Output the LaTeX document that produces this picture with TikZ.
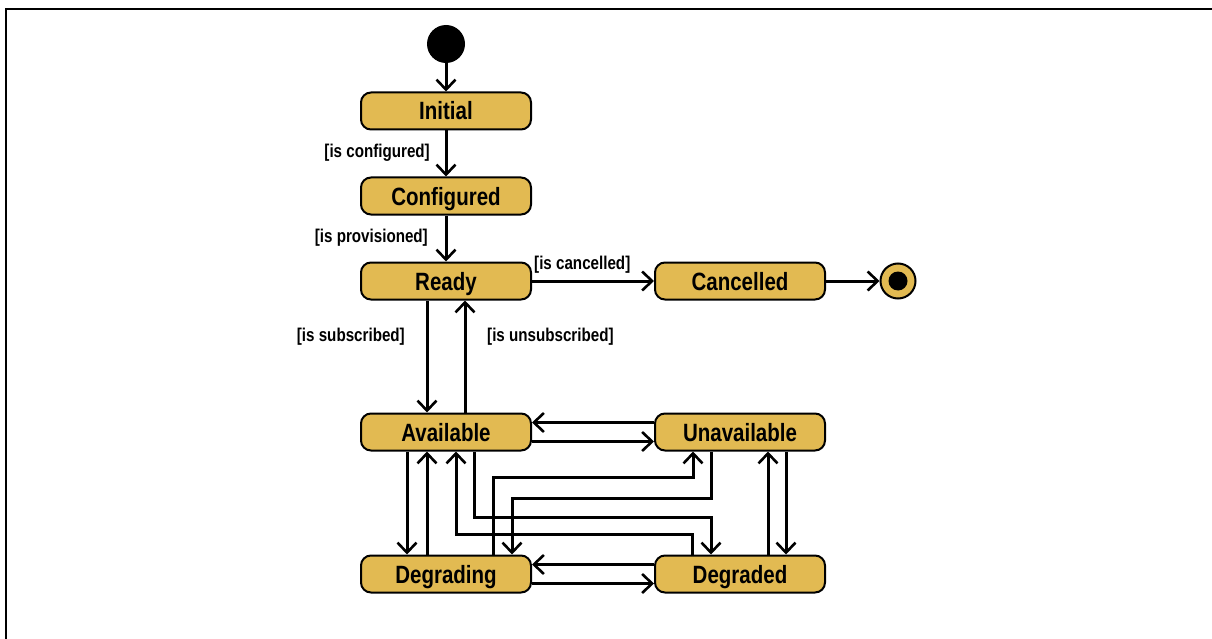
\documentclass[tikz,border=0pt]{standalone}
\usepackage{fontspec}
\setmainfont{Liberation Sans}[FakeStretch=0.82]
\usetikzlibrary{arrows.meta}
\definecolor{stategold}{HTML}{E2BA52}
\begin{document}
\begin{tikzpicture}[x=1pt,y=-1pt,
  statebox/.style={draw=black, line width=2pt, fill=stategold, rounded corners=10pt,
    minimum width=170pt, minimum height=37pt, inner sep=0pt,
    text height=18pt, text depth=0pt,
    font=\fontsize{25}{27}\selectfont\bfseries},
  guard/.style={inner sep=0pt, font=\fontsize{18.5}{20}\selectfont\bfseries},
  tr/.style={draw=black, line width=3pt, line cap=butt,
    -{Straight Barb[length=10pt,width=19pt,line width=2.6pt]}}]
  \useasboundingbox (0,0) rectangle (1212,639);
  % clipped frame
  \draw[line width=1.6pt] (6,639) -- (6,9) -- (1212,9);

  % pseudo states
  \node[circle, fill=black, minimum size=38pt, inner sep=0pt] (start) at (446,44) {};
  \node[circle, draw=black, line width=2pt, fill=stategold, minimum size=35pt, inner sep=0pt] (stop) at (898,281) {};
  \node[circle, fill=black, minimum size=19pt, inner sep=0pt] (stopdot) at (898,281) {};

  % states
  \node[statebox] (init)  at (446,111) {Initial};
  \node[statebox] (conf)  at (446,196) {Configured};
  \node[statebox] (ready) at (446,281) {Ready};
  \node[statebox] (canc)  at (740,281) {Cancelled};
  \node[statebox] (avail) at (446,432) {Available};
  \node[statebox] (unav)  at (740,432) {Unavailable};
  \node[statebox] (dgng)  at (446,574) {Degrading};
  \node[statebox] (degd)  at (740,574) {Degraded};

  % upper chain
  \draw[tr] (start) -- (init);
  \draw[tr] (init) -- (conf);
  \draw[tr] (conf) -- (ready);
  \draw[tr] (ready) -- (canc);
  \draw[tr] (canc) -- (stop);
  \draw[tr] ([xshift=-19pt]ready.south) -- ([xshift=-19pt]avail.north);
  \draw[tr] ([xshift=19pt]avail.north) -- ([xshift=19pt]ready.south);

  % guards
  \node[guard, anchor=east] (g1) at (430,153) {[is configured]};
  \node[guard, anchor=east] (g2) at (428,238) {[is provisioned]};
  \node[guard, anchor=west] (g3) at (534,265) {[is cancelled]};
  \node[guard, anchor=east] (g4) at (405,337) {[is subscribed]};
  \node[guard, anchor=west] (g5) at (487,337) {[is unsubscribed]};

  % horizontal pairs
  \draw[tr] ([yshift=9.5pt]unav.west) -- ([yshift=9.5pt]avail.east);
  \draw[tr] ([yshift=-9.5pt]avail.east) -- ([yshift=-9.5pt]unav.west);
  \draw[tr] ([yshift=9.5pt]degd.west) -- ([yshift=9.5pt]dgng.east);
  \draw[tr] ([yshift=-9.5pt]dgng.east) -- ([yshift=-9.5pt]degd.west);

  % vertical pairs
  \draw[tr] ([xshift=-39pt]avail.south) -- ([xshift=-39pt]dgng.north);
  \draw[tr] ([xshift=-19pt]dgng.north) -- ([xshift=-19pt]avail.south);
  \draw[tr] ([xshift=46pt]unav.south) -- ([xshift=46pt]degd.north);
  \draw[tr] ([xshift=28pt]degd.north) -- ([xshift=28pt]unav.south);

  % crossing transitions
  \draw[tr] ([xshift=-48pt]degd.north) -- ++(0,-20) -| ([xshift=10pt]avail.south);
  \draw[tr] ([xshift=28pt]avail.south) -- ++(0,66) -| ([xshift=-29pt]degd.north);
  \draw[tr] ([xshift=47pt]dgng.north) -- ++(0,-77) -| ([xshift=-47pt]unav.south);
  \draw[tr] ([xshift=-29pt]unav.south) -- ++(0,47) -| ([xshift=66pt]dgng.north);
\end{tikzpicture}
\end{document}
